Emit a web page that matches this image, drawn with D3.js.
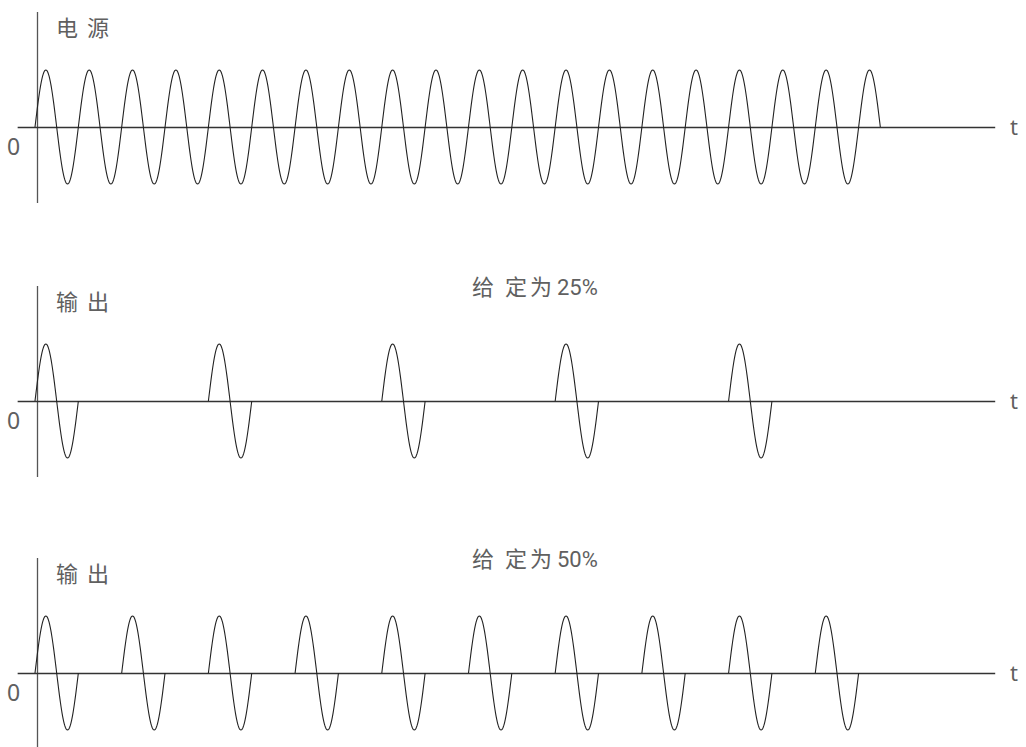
<!DOCTYPE html>
<html><head><meta charset="utf-8">
<script src="https://cdn.jsdelivr.net/npm/d3@7"></script>
<style>
html,body{margin:0;padding:0;background:#fff;}
text{font-family:"Noto Sans CJK SC","Noto Sans",sans-serif;fill:#606060;}
</style></head>
<body><svg id="c" width="1026" height="747"></svg>
<script>
// ---- data ----
const panelLabels = ["电 源", "输 出", "输 出"];
const titleWords = ["", "给 定为", "给 定为"];
const titlePercents = ["", "25%", "50%"];
const supplyCycles = 19.5;                       // mains cycles shown in top panel
const gate25 = [1,0,0,0, 1,0,0,0, 1,0,0,0, 1,0,0,0, 1]; // on/off per cycle, 25%
const gate50 = [1,0, 1,0, 1,0, 1,0, 1,0, 1,0, 1,0, 1,0, 1,0, 1]; // 50%
const axisT = [-0.4, 22.15];                      // time-axis extent in cycles
const zeroLabel = "0", timeLabel = "t";

// ---- layout ----
const svg = d3.select("#c");
const x = d3.scaleLinear().domain([0, 20]).range([35, 35 + 20 * 43.35]);
const zeros = [127, 401, 673];
const amp = 57;

function wavePts(c0, c1) {
  const pts = [];
  const n = Math.round((c1 - c0) * 80);
  for (let i = 0; i <= n; i++) {
    const t = c0 + (c1 - c0) * i / n;
    pts.push([t, Math.sin(2 * Math.PI * t)]);
  }
  return pts;
}

const panels = [
  { segs: [[0, supplyCycles]] },
  { segs: gate25.map((g, i) => g ? [i, i + 1] : null).filter(Boolean) },
  { segs: gate50.map((g, i) => g ? [i, i + 1] : null).filter(Boolean) }
];

panels.forEach((p, i) => {
  const z = zeros[i];
  const y = d3.scaleLinear().domain([-1, 1]).range([z + amp, z - amp]);
  const g = svg.append("g");
  // vertical axis
  g.append("line").attr("x1", 37.5).attr("x2", 37.5)
    .attr("y1", z - 115).attr("y2", z + 76)
    .attr("stroke", "#555").attr("stroke-width", 1.3);
  // horizontal axis
  g.append("line").attr("x1", x(axisT[0])).attr("x2", x(axisT[1]))
    .attr("y1", z + 0.5).attr("y2", z + 0.5)
    .attr("stroke", "#333").attr("stroke-width", 1.3);
  // waveform
  const line = d3.line().x(d => x(d[0])).y(d => y(d[1]));
  p.segs.forEach(s => {
    g.append("path").attr("d", line(wavePts(s[0], s[1])))
      .attr("fill", "none").attr("stroke", "#222").attr("stroke-width", 1.1);
  });
  // labels
  g.append("text").attr("x", 56).attr("y", z - 91).text(panelLabels[i])
    .attr("font-size", 22).attr("letter-spacing", 2);
  g.append("text").attr("x", 7).attr("y", z + 28).text(zeroLabel)
    .attr("font-size", 23).style("font-family", "'Noto Sans',sans-serif");
  g.append("text").attr("x", 1010).attr("y", z + 8).text(timeLabel)
    .attr("font-size", 22).style("font-family", "'Noto Sans',sans-serif");
  if (titleWords[i]) {
    const t = g.append("text").attr("x", 472).attr("y", z - 106)
      .attr("font-size", 22);
    t.append("tspan").attr("letter-spacing", 3).text(titleWords[i]);
    t.append("tspan").attr("dx", 2)
      .style("font-family", "'Liberation Sans Narrow','Roboto',sans-serif")
      .text(titlePercents[i]);
  }
});
</script></body></html>
